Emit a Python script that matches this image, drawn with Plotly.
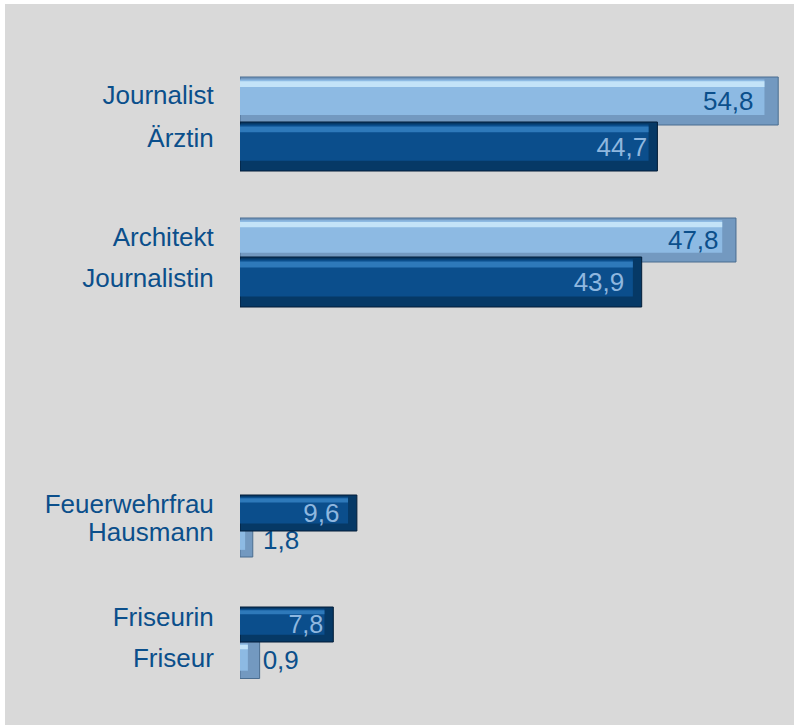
import plotly.graph_objects as go

# ---------------- data ----------------
light_names = ["Journalist", "Architekt", "Hausmann", "Friseur"]
light_labels = [54.8, 47.8, 1.8, 0.9]          # printed data labels
light_lengths = [54.8, 50.5, 1.3, 2.0]         # bar lengths as drawn in the picture

dark_names = ["Ärztin", "Journalistin", "Feuerwehrfrau", "Friseurin"]
dark_labels = [44.7, 43.9, 9.6, 7.8]
dark_lengths = [42.5, 40.9, 11.9, 9.5]

# ---------------- layout (rows on a numeric axis, px-like units) ----------------
light_pos = [97, 236, 536, 656]
light_thick = [48, 44, 34, 37]
dark_pos = [142.5, 278, 509, 620.5]
dark_thick = [49, 50, 36, 35]

label_order = ["Journalist", "Ärztin", "Architekt", "Journalistin",
               "Feuerwehrfrau", "Hausmann", "Friseurin", "Friseur"]
label_pos = [91, 134, 232.5, 274, 500, 528, 613, 654]

# label padding (non-breaking spaces) and placement
light_pad = [3, 2, 1, 0]
light_textpos = ["inside", "inside", "outside", "outside"]
dark_pad = [1, 2, 2, 1]
dark_textpos = ["inside", "inside", "inside", "inside"]

FONT = "Liberation Sans, Arial, sans-serif"
TXT = "#0b4f8b"

LIGHT = dict(main="#8dbae3", hi="#c3e3f8", shade="#7399c0", edge="#4a6d90", bevel=1.4)
DARK = dict(main="#0b4e8c", hi="#2e79ba", shade="#063966", edge="#021d38", bevel=0.9)


def fmt(v):
    return f"{v:.1f}".replace(".", ",")


fig = go.Figure()


def add_series(lengths, pos, thick, labels, pad, textpos, pal, txtcolor):
    inner = [max(L - pal["bevel"], L * 0.4) for L in lengths]
    # base (shade / bevel edges)
    fig.add_trace(go.Bar(
        orientation="h", x=lengths, y=pos, width=thick,
        marker=dict(color=pal["shade"], line=dict(color=pal["edge"], width=1)),
        hoverinfo="skip",
    ))
    # main face
    fig.add_trace(go.Bar(
        orientation="h", x=inner, y=[p - 0.08 * t for p, t in zip(pos, thick)],
        width=[0.74 * t for t in thick],
        marker=dict(color=pal["main"], line=dict(width=0)),
        hoverinfo="skip",
    ))
    # top highlight
    fig.add_trace(go.Bar(
        orientation="h", x=inner, y=[p - 0.5 * t + 0.15 * t for p, t in zip(pos, thick)],
        width=[0.12 * t for t in thick],
        marker=dict(color=pal["hi"], line=dict(width=0)),
        hoverinfo="skip",
    ))
    # labels (transparent full bar carrying the text)
    texts = []
    for v, n, tp in zip(labels, pad, textpos):
        s = "\u00a0" * n
        texts.append(fmt(v) + s if tp == "inside" else s + fmt(v))
    fig.add_trace(go.Bar(
        orientation="h", x=lengths, y=pos, width=thick,
        marker=dict(color="rgba(0,0,0,0)", line=dict(width=0)),
        text=texts, textposition=textpos, insidetextanchor="end",
        textangle=0, cliponaxis=False,
        textfont=dict(family=FONT, size=26, color=txtcolor),
        outsidetextfont=dict(family=FONT, size=26, color=TXT),
        hoverinfo="skip",
    ))


add_series(light_lengths, light_pos, light_thick, light_labels, light_pad,
           light_textpos, LIGHT, TXT)
add_series(dark_lengths, dark_pos, dark_thick, dark_labels, dark_pad,
           dark_textpos, DARK, "#8fb7df")

fig.update_layout(
    width=789, height=721,
    margin=dict(l=235, r=4, t=0, b=0),
    paper_bgcolor="#d9d9d9",
    plot_bgcolor="#d9d9d9",
    barmode="overlay",
    showlegend=False,
    xaxis=dict(range=[0, 56], visible=False, fixedrange=True),
    yaxis=dict(
        range=[721, 0],
        tickmode="array",
        tickvals=label_pos,
        ticktext=label_order,
        ticks="outside", ticklen=20, tickcolor="rgba(0,0,0,0)",
        showgrid=False, zeroline=False, showline=False,
        tickfont=dict(family=FONT, size=26, color=TXT),
        fixedrange=True,
    ),
    font=dict(family=FONT),
)

fig.write_html(
    "out.html",
    post_script="document.body.style.margin='4px 0 0 5px';document.body.style.overflow='hidden';document.body.style.background='#ffffff';",
)
